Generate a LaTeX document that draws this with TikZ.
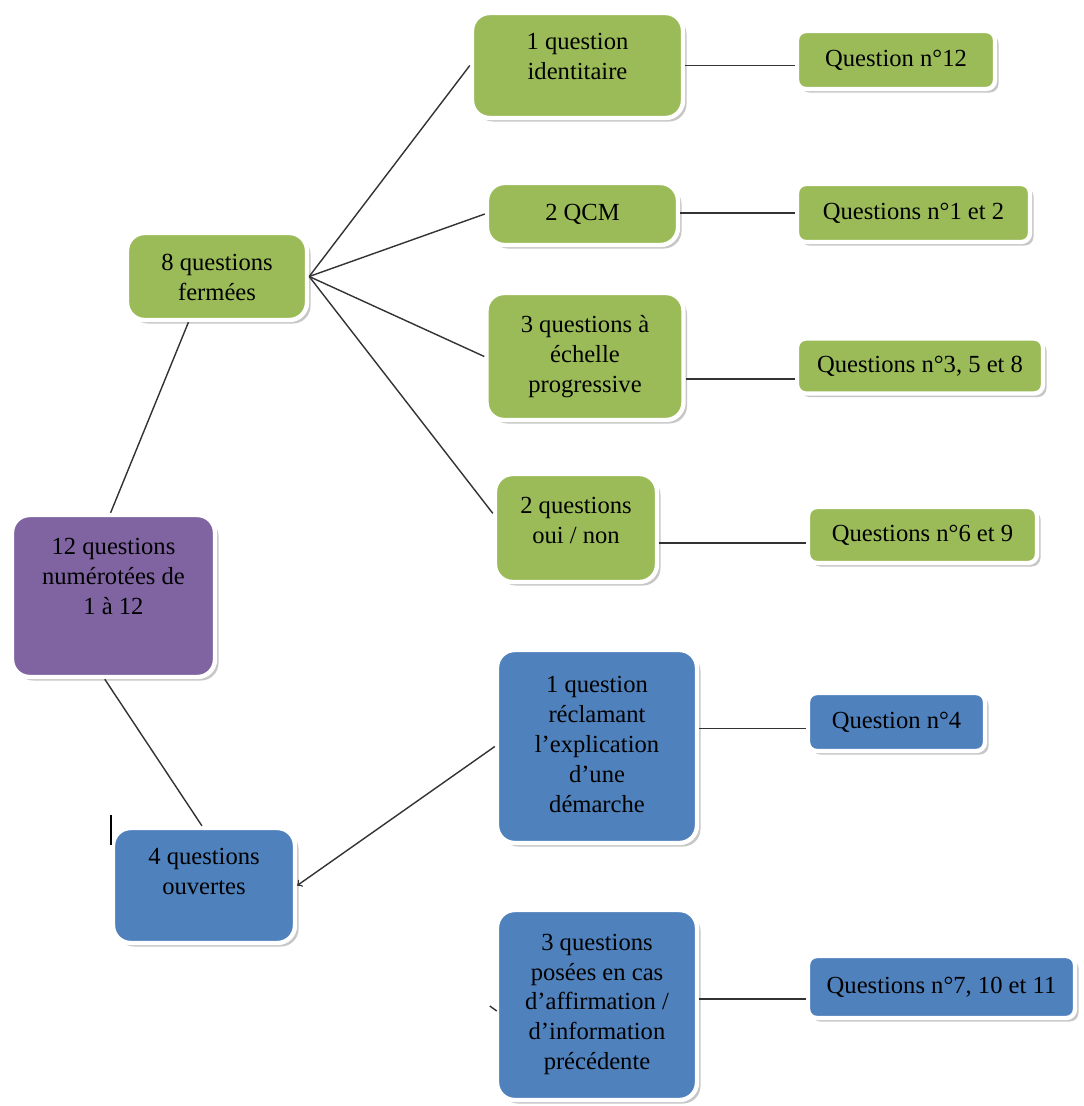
\documentclass[tikz,border=0pt]{standalone}
\usepackage{fontspec}
\setmainfont{Liberation Serif}
\usetikzlibrary{shadows,calc}

\definecolor{leafgreen}{RGB}{155,187,89}
\definecolor{skyblue}{RGB}{79,129,189}
\definecolor{plum}{RGB}{128,100,162}

\newlength\unitpx
\setlength\unitpx{0.02cm}
% box text: width, height, top padding, lines
\newcommand{\boxlines}[4]{\parbox[c][#2\unitpx][t]{#1\unitpx}{\centering\vspace*{#3}\strut #4}}

\begin{document}
\begin{tikzpicture}[x=0.02cm, y=-0.02cm,
    every node/.style={font=\fontsize{14}{17}\selectfont, inner sep=0pt},
    card/.style={rounded corners=10pt, draw=white, line width=2.5pt,
      drop shadow={shadow xshift=2pt, shadow yshift=-2pt, opacity=0.4, fill=black!55}},
    tag/.style={card, rounded corners=5pt},
    link/.style={draw=black!80, line width=0.8pt}]
  \fill[white] (0,0) rectangle (1083,1106);

  % Left column
  \node[card, fill=plum] (root) at (113.5,596) {\boxlines{203}{162}{10.8pt}{12 questions\\numérotées de\\1 à 12}};
  \node[card, fill=leafgreen] (fermees) at (217,276.5) {\boxlines{180}{87}{9.6pt}{8 questions\\fermées}};
  \node[card, fill=skyblue] (ouvertes) at (204,885.5) {\boxlines{182}{115}{9pt}{4 questions\\ouvertes}};

  % Middle column
  \node[card, fill=leafgreen] (m1) at (577.5,65.5) {\boxlines{211}{105}{9pt}{1 question\\identitaire}};
  \node[card, fill=leafgreen, minimum width=191\unitpx, minimum height=62\unitpx] (m2) at (582.5,214) {2 QCM};
  \node[card, fill=leafgreen] (m3) at (585,356.5) {\boxlines{197}{127}{10.8pt}{3 questions à\\échelle\\progressive}};
  \node[card, fill=leafgreen] (m4) at (576,528) {\boxlines{162}{108}{10.5pt}{2 questions\\oui / non}};
  \node[card, fill=skyblue] (m5) at (597,746.5) {\boxlines{200}{193}{12.5pt}{1 question\\réclamant\\l’explication\\d’une\\démarche}};
  \node[card, fill=skyblue] (m6) at (597,1005) {\boxlines{200}{190}{11pt}{3 questions\\posées en cas\\d’affirmation /\\d’information\\précédente}};

  % Right column
  \node[tag, fill=leafgreen, minimum width=198\unitpx, minimum height=58\unitpx] (a1) at (896,60) {Question n°12};
  \node[tag, fill=leafgreen, minimum width=233\unitpx, minimum height=58\unitpx] (a2) at (913.5,213) {Questions n°1 et 2};
  \node[tag, fill=leafgreen, minimum width=246\unitpx, minimum height=55\unitpx] (a3) at (920,366) {Questions n°3, 5 et 8};
  \node[tag, fill=leafgreen, minimum width=229\unitpx, minimum height=56\unitpx] (a4) at (922.5,535) {Questions n°6 et 9};
  \node[tag, fill=skyblue, minimum width=177\unitpx, minimum height=58\unitpx] (a5) at (896.5,722) {Question n°4};
  \node[tag, fill=skyblue, minimum width=267\unitpx, minimum height=62\unitpx] (a6) at (941.5,987) {Questions n°7, 10 et 11};

  % Links
  \draw[link] (root.92) -- (fermees.238);
  \draw[link] (root.264) -- (ouvertes.92);
  \foreach \m in {m1,m2,m3}{
    \draw[link] (fermees.east) -- (\m.west);
  }
  \draw[link] (fermees.east) -- (m4.170);
  \draw[link] (a1.183 -| m1.east) -- (a1.183);
  \draw[link] (a2.west -| m2.east) -- (a2.west);
  \draw[link] (a3.186 -| m3.east) -- (a3.186);
  \draw[link] (a4.184 -| m4.east) -- (a4.184);
  \draw[link] (a5.184 -| m5.east) -- (a5.184);
  \draw[link] (a6.185 -| m6.east) -- (a6.185);
  \draw[link, ->] (m5.west) -- (ouvertes.east);

  % stray marks
  \draw[line width=1.2pt] ($(ouvertes.north west)+(0,-11)$) -- ++(0,30);
  \draw[link] ($(m6.west)+(-5,1)$) -- ++(7,5);
\end{tikzpicture}
\end{document}
